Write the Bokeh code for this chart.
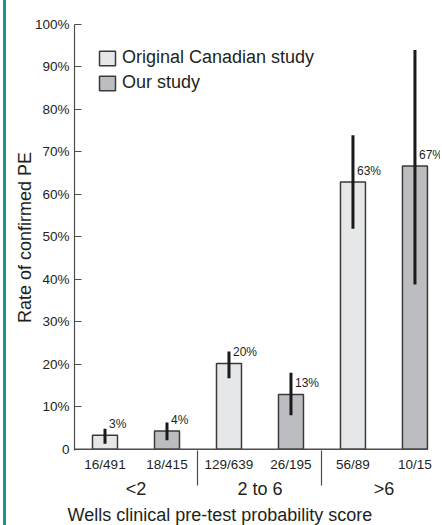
from bokeh.plotting import figure
from bokeh.models import (ColumnDataSource, FixedTicker, Legend, LegendItem,
                          LinearAxis, Title, Range1d)
from bokeh.core.properties import value
from bokeh.embed import file_html
from bokeh.resources import INLINE

# ---- data ----
pair_labels = ["16/491", "18/415", "129/639", "26/195", "56/89", "10/15"]
study = ["orig", "ours", "orig", "ours", "orig", "ours"]
rate = [3.3, 4.3, 20.2, 12.9, 62.9, 66.7]
ci_low = [1.3, 2.1, 16.7, 8.0, 51.9, 38.8]
ci_high = [4.8, 6.3, 23.0, 18.0, 73.9, 94.0]
rate_text = ["3%", "4%", "20%", "13%", "63%", "67%"]
groups = ["<2", "2 to 6", ">6"]
group_pos = [0.5, 2.5, 4.5]
y_ticks = [0, 10, 20, 30, 40, 50, 60, 70, 80, 90, 100]
y_tick_labels = ["0", "10%", "20%", "30%", "40%", "50%", "60%", "70%", "80%", "90%", "100%"]
series_names = ["Original Canadian study", "Our study"]
x_title = "Wells clinical pre-test probability score"
y_title = "Rate of confirmed PE"

TXT = "#231f20"
AX = "#4d4d4d"
TEAL = "#17998a"
REG = "Liberation Sans"

xs = list(range(len(pair_labels)))

p = figure(width=440, height=525,
           x_range=Range1d(-0.492, 5.412), y_range=Range1d(-0.3, 100),
           output_backend="svg", toolbar_location=None,
           min_border_left=74, min_border_right=0,
           min_border_top=24, min_border_bottom=70)
p.border_fill_color = None
p.styles = {
    "background": "linear-gradient(to right, transparent 3px, %s 3px, %s 6px, transparent 6px) no-repeat" % (TEAL, TEAL),
}
p.outline_line_color = None
p.xgrid.visible = False
p.ygrid.visible = False

orig_idx = [i for i, s in enumerate(study) if s == "orig"]
ours_idx = [i for i, s in enumerate(study) if s == "ours"]
src_orig = ColumnDataSource(dict(x=[xs[i] for i in orig_idx], top=[rate[i] for i in orig_idx]))
src_ours = ColumnDataSource(dict(x=[xs[i] for i in ours_idx], top=[rate[i] for i in ours_idx]))

r1 = p.vbar(x="x", top="top", bottom=0, width=0.403, source=src_orig,
            fill_color="#e6e7e8", line_color="#3a3a3a", line_width=1.5)
r2 = p.vbar(x="x", top="top", bottom=0, width=0.403, source=src_ours,
            fill_color="#bcbdc0", line_color="#3a3a3a", line_width=1.5)

# baseline (x axis line) ending at the last bar
p.segment(x0=[-0.492], x1=[5.2], y0=[0], y1=[0], line_color=AX, line_width=1.3)

err = ColumnDataSource(dict(x=xs, lo=ci_low, hi=ci_high))
p.segment(x0="x", x1="x", y0="lo", y1="hi", source=err,
          line_color="#1a1a1a", line_width=3)

lab = ColumnDataSource(dict(x=xs, y=rate, t=rate_text))
p.text(x="x", y="y", text="t", source=lab, x_offset=4, y_offset=-11,
       text_baseline="middle", text_align="left",
       text_font=value(REG), text_font_size="12px", text_color=TXT)

# y axis
ya = p.yaxis[0]
ya.ticker = FixedTicker(ticks=y_ticks)
ya.major_label_overrides = {t: l for t, l in zip(y_ticks, y_tick_labels)}
ya.major_tick_in = 7
ya.major_tick_out = 0
ya.minor_tick_line_color = None
ya.axis_line_color = AX
ya.axis_line_width = 1.2
ya.major_tick_line_color = AX
ya.major_tick_line_width = 1.2
ya.major_label_standoff = 5
ya.major_label_text_font = REG
ya.major_label_text_font_size = "13.5px"
ya.major_label_text_color = TXT
ya.axis_label = y_title
ya.axis_label_text_font = REG
ya.axis_label_text_font_size = "18px"
ya.axis_label_text_font_style = "normal"
ya.axis_label_text_color = TXT
ya.axis_label_standoff = -3

# x axis (pair counts + group separators)
xa = p.xaxis[0]
xa.ticker = FixedTicker(ticks=xs, minor_ticks=[1.5, 3.5])
xa.major_label_overrides = {i: l for i, l in zip(xs, pair_labels)}
xa.major_tick_in = 0
xa.major_tick_out = 0
xa.minor_tick_in = 0
xa.minor_tick_out = 35
xa.minor_tick_line_color = AX
xa.minor_tick_line_width = 1.2
xa.axis_line_color = None
xa.major_label_standoff = -29
xa.major_label_text_font = REG
xa.major_label_text_font_size = "13.5px"
xa.major_label_text_color = TXT

# second x axis: score groups
xg = LinearAxis(ticker=FixedTicker(ticks=group_pos),
                major_label_overrides={g: t for g, t in zip(group_pos, groups)},
                major_tick_in=0, major_tick_out=0, minor_tick_line_color=None,
                major_tick_line_color=None, axis_line_color=None,
                major_label_standoff=4, major_label_text_font=REG,
                major_label_text_font_size="18px", major_label_text_color=TXT)
p.add_layout(xg, "below")

p.add_layout(Title(text=x_title, align="left", offset=-7, standoff=2,
                   text_font=REG, text_font_size="18px",
                   text_font_style="normal", text_color=TXT), "below")

legend = Legend(items=[LegendItem(label=series_names[0], renderers=[r1]),
                       LegendItem(label=series_names[1], renderers=[r2])],
                location="top_left", margin=10, padding=13, spacing=4,
                glyph_width=20, glyph_height=18, label_standoff=5,
                label_text_font=REG, label_text_font_size="18px",
                label_text_color=TXT, border_line_alpha=0,
                background_fill_alpha=0)
p.add_layout(legend)

open("out.html", "w").write(file_html(p, INLINE))
